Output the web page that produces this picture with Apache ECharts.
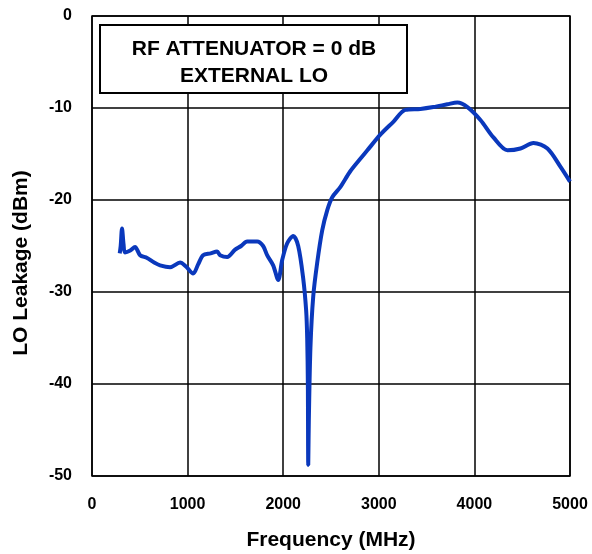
<!DOCTYPE html>
<html>
<head>
<meta charset="utf-8">
<script src="https://cdn.jsdelivr.net/npm/echarts@6/dist/echarts.min.js"></script>
<style>
  html, body { margin: 0; padding: 0; background: #fff; }
  #chart { width: 592px; height: 554px; }
</style>
</head>
<body>
<div id="chart"></div>
<script>
// LO leakage vs frequency
const freqMHz = [290, 300, 314, 330, 345, 400, 450, 503, 576, 650, 712, 817, 921, 980, 1058, 1110, 1162,
  1240, 1309, 1340, 1414, 1497, 1560, 1623, 1728, 1790, 1832, 1895, 1948, 1990, 2042, 2105, 2157,
  2209, 2240, 2251, 2258, 2262, 2268, 2285, 2314, 2356, 2408, 2461, 2513, 2597, 2700, 2800, 2880,
  3016, 3152, 3277, 3435, 3571, 3717, 3822, 3927, 4063, 4199, 4346, 4482, 4618, 4764, 4901, 5000];
const leakDBm = [-25.8, -25.0, -23.1, -24.8, -25.7, -25.5, -25.1, -26.0, -26.3, -26.8, -27.1, -27.3, -26.8, -27.2, -28.0, -27.0, -26.0,
  -25.8, -25.6, -26.0, -26.2, -25.4, -25.0, -24.5, -24.5, -25.0, -26.0, -27.1, -28.7, -26.5, -24.7, -23.9, -25.0,
  -28.5, -32.0, -35.0, -40.0, -48.8, -44.0, -36.0, -30.5, -26.8, -23.3, -21.1, -19.7, -18.6, -16.9, -15.6, -14.6,
  -12.9, -11.5, -10.2, -10.1, -9.9, -9.6, -9.4, -9.9, -11.3, -13.2, -14.6, -14.4, -13.8, -14.4, -16.4, -18.0];
const xTicks = [0, 1000, 2000, 3000, 4000, 5000];
const yTicks = [0, -10, -20, -30, -40, -50];

const chart = echarts.init(document.getElementById('chart'));
const font = 'Liberation Sans, Arial, sans-serif';

chart.setOption({
  animation: false,
  grid: { left: 92, right: 22, top: 16, bottom: 78, outerBoundsMode: 'none',
    show: true, borderColor: '#000', borderWidth: 1.5 },
  xAxis: {
    type: 'value',
    min: xTicks[0],
    max: xTicks[xTicks.length - 1],
    interval: 1000,
    name: 'Frequency (MHz)',
    nameLocation: 'middle',
    nameGap: 54,
    nameTextStyle: { fontFamily: font, fontSize: 21, fontWeight: 'bold', color: '#000' },
    axisLine: { show: false },
    axisTick: { show: false },
    axisLabel: { fontFamily: font, fontSize: 16, fontWeight: 'bold', color: '#000', margin: 21,
      formatter: v => String(v) },
    splitLine: { show: true, lineStyle: { color: '#000', width: 1.5 } }
  },
  yAxis: {
    type: 'value',
    min: yTicks[yTicks.length - 1],
    max: yTicks[0],
    interval: 10,
    name: 'LO Leakage (dBm)',
    nameLocation: 'middle',
    nameGap: 60,
    // nudged down a bit, the original label sits below the plot centre
    nameTextStyle: { fontFamily: font, fontSize: 21, fontWeight: 'bold', color: '#000', padding: [0, 34, 0, 0] },
    axisLine: { show: false },
    axisTick: { show: false },
    axisLabel: { fontFamily: font, fontSize: 16, fontWeight: 'bold', color: '#000', margin: 20 },
    splitLine: { show: true, lineStyle: { color: '#000', width: 1.5 } }
  },
  graphic: [
    {
      type: 'rect',
      shape: { x: 100, y: 25, width: 307, height: 68 },
      style: { fill: '#fff', stroke: '#000', lineWidth: 2 },
      z: 100
    },
    {
      type: 'text',
      x: 254,
      y: 36,
      style: {
        text: 'RF ATTENUATOR = 0 dB\nEXTERNAL LO',
        font: 'bold 21px ' + font,
        fill: '#000',
        align: 'center',
        verticalAlign: 'top',
        lineHeight: 27
      },
      z: 101
    }
  ],
  series: [{
    type: 'line',
    data: freqMHz.map((f, i) => [f, leakDBm[i]]),
    smooth: 0.3,
    showSymbol: false,
    lineStyle: { color: '#0a38bc', width: 4 }
  }]
});
</script>
</body>
</html>
